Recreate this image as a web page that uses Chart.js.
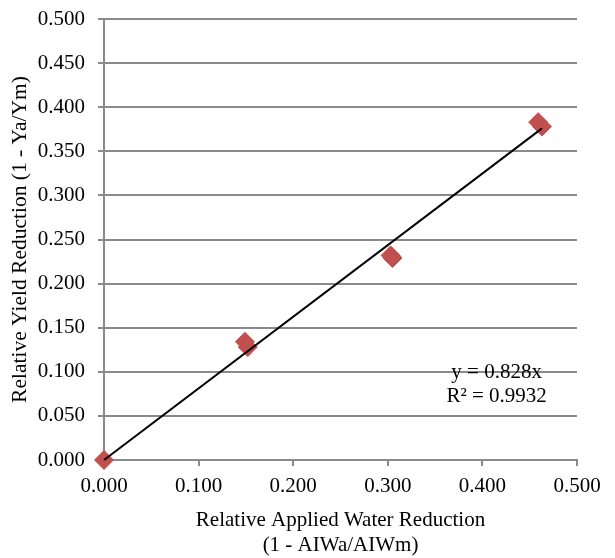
<!DOCTYPE html>
<html>
<head>
<meta charset="utf-8">
<script src="https://cdn.jsdelivr.net/npm/chart.js@4"></script>
<style>
  body { margin: 0; background: #fff; }
  #wrap { width: 615px; height: 558px; }
</style>
</head>
<body>
<div id="wrap"><canvas id="chart"></canvas></div>
<script>
// relative applied water reduction (x) vs relative yield reduction (y)
const waterReduction = [0.000, 0.149, 0.152, 0.303, 0.305, 0.459, 0.463]
const yieldReduction = [0.000, 0.134, 0.128, 0.232, 0.229, 0.383, 0.378]

// linear trend through origin, end points
const trendX = [0.000, 0.463]
const trendY = [0.000, 0.376]

const EQUATION = ['y = 0.828x', 'R\u00b2 = 0.9932']

const FONT = 'Liberation Serif'
const GRID_COLOR = '#8a8a8a'

const points = waterReduction.map((x, i) => ({ x: x, y: yieldReduction[i] }))
const trend = trendX.map((x, i) => ({ x: x, y: trendY[i] }))

// draws the trendline label on top of the grid
const equationLabel = {
  id: 'equationLabel',
  afterDraw(chart) {
    const ctx = chart.ctx
    const xs = chart.scales.x
    const ys = chart.scales.y
    ctx.save()
    ctx.font = '21px "' + FONT + '"'
    ctx.fillStyle = '#000'
    ctx.textAlign = 'center'
    ctx.textBaseline = 'middle'
    const cx = xs.getPixelForValue(0.415)
    ctx.fillText(EQUATION[0], cx, ys.getPixelForValue(0.100) + 1)
    ctx.fillText(EQUATION[1], cx, ys.getPixelForValue(0.100) + 25)
    ctx.restore()
  }
}

const ctx = document.getElementById('chart')
new Chart(ctx, {
  type: 'scatter',
  data: {
    datasets: [{
      label: 'Linear',
      data: trend,
      showLine: true,
      borderColor: '#000',
      borderWidth: 2,
      pointRadius: 0,
      clip: false,
      order: 0
    }, {
      label: 'Yield',
      data: points,
      pointStyle: 'rectRot',
      pointRadius: 9.5,
      pointBackgroundColor: '#c0504d',
      pointBorderColor: '#c0504d',
      pointBorderWidth: 1,
      clip: false,
      order: 1
    }]
  },
  options: {
    responsive: true,
    maintainAspectRatio: false,
    animation: false,
    layout: { padding: { top: 19, right: 38, left: 0, bottom: 0 } },
    plugins: {
      legend: { display: false },
      tooltip: { enabled: false }
    },
    scales: {
      x: {
        type: 'linear',
        min: 0,
        max: 0.5,
        afterFit: (s) => { s.height = 98; s.paddingLeft = 0; s.paddingRight = 0 },
        border: { color: GRID_COLOR, width: 2 },
        grid: { drawOnChartArea: false, drawTicks: true, tickLength: 6, color: GRID_COLOR, lineWidth: 2 },
        ticks: {
          stepSize: 0.1,
          padding: 8,
          color: '#000',
          font: { family: FONT, size: 21 },
          maxRotation: 0,
          callback: (v) => v.toFixed(3)
        },
        title: {
          display: true,
          text: ['Relative Applied Water Reduction', '(1 - AIWa/AIWm)'],
          color: '#000',
          font: { family: FONT, size: 21, lineHeight: 1.2 },
          padding: { top: 0, bottom: 0 }
        }
      },
      y: {
        type: 'linear',
        min: 0,
        max: 0.5,
        afterFit: (s) => { s.width = 104; s.paddingTop = 0; s.paddingBottom = 0 },
        border: { color: GRID_COLOR, width: 2 },
        grid: { drawOnChartArea: true, drawTicks: true, tickLength: 6, color: GRID_COLOR, lineWidth: 2 },
        ticks: {
          stepSize: 0.05,
          padding: 13,
          color: '#000',
          font: { family: FONT, size: 21 },
          callback: (v) => v.toFixed(3)
        },
        title: {
          display: true,
          text: 'Relative Yield Reduction (1 - Ya/Ym)',
          color: '#000',
          font: { family: FONT, size: 21.5 },
          padding: { top: 7, bottom: 0 }
        }
      }
    }
  },
  plugins: [equationLabel]
})
</script>
</body>
</html>
